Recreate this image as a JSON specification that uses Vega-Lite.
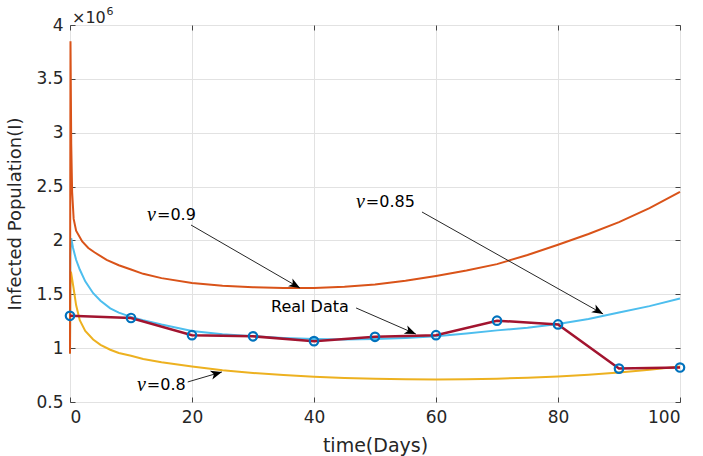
{
  "$schema": "https://vega.github.io/schema/vega-lite/v6.json",
  "width": 610,
  "height": 377,
  "autosize": "none",
  "padding": {"left": 70, "top": 25, "right": 23, "bottom": 54},
  "background": "white",
  "datasets": {
    "curves": [
      {"t": 0, "I": 950000, "series": "0.85"}, {"t": 0.05, "I": 1850000, "series": "0.85"}, {"t": 0.2, "I": 2020000, "series": "0.85"}, {"t": 0.5, "I": 1930000, "series": "0.85"}, {"t": 1, "I": 1820000, "series": "0.85"}, {"t": 1.6, "I": 1730000, "series": "0.85"}, {"t": 2.5, "I": 1620000, "series": "0.85"}, {"t": 3.8, "I": 1510000, "series": "0.85"}, {"t": 5, "I": 1440000, "series": "0.85"}, {"t": 6.6, "I": 1370000, "series": "0.85"}, {"t": 8, "I": 1330000, "series": "0.85"}, {"t": 10, "I": 1290000, "series": "0.85"}, {"t": 12, "I": 1260000, "series": "0.85"}, {"t": 15, "I": 1220000, "series": "0.85"}, {"t": 20, "I": 1160000, "series": "0.85"}, {"t": 25, "I": 1130000, "series": "0.85"}, {"t": 30, "I": 1110000, "series": "0.85"}, {"t": 35, "I": 1095000, "series": "0.85"}, {"t": 40, "I": 1085000, "series": "0.85"}, {"t": 45, "I": 1080000, "series": "0.85"}, {"t": 50, "I": 1085000, "series": "0.85"}, {"t": 55, "I": 1095000, "series": "0.85"}, {"t": 60, "I": 1110000, "series": "0.85"}, {"t": 65, "I": 1135000, "series": "0.85"}, {"t": 70, "I": 1165000, "series": "0.85"}, {"t": 75, "I": 1190000, "series": "0.85"}, {"t": 80, "I": 1225000, "series": "0.85"}, {"t": 85, "I": 1270000, "series": "0.85"}, {"t": 90, "I": 1330000, "series": "0.85"}, {"t": 95, "I": 1390000, "series": "0.85"}, {"t": 100, "I": 1460000, "series": "0.85"},
      {"t": 0, "I": 950000, "series": "0.8"}, {"t": 0.05, "I": 1550000, "series": "0.8"}, {"t": 0.15, "I": 1710000, "series": "0.8"}, {"t": 0.3, "I": 1660000, "series": "0.8"}, {"t": 0.55, "I": 1570000, "series": "0.8"}, {"t": 1, "I": 1400000, "series": "0.8"}, {"t": 1.6, "I": 1260000, "series": "0.8"}, {"t": 2.5, "I": 1160000, "series": "0.8"}, {"t": 3.8, "I": 1080000, "series": "0.8"}, {"t": 5, "I": 1030000, "series": "0.8"}, {"t": 6.6, "I": 985000, "series": "0.8"}, {"t": 8, "I": 955000, "series": "0.8"}, {"t": 10, "I": 930000, "series": "0.8"}, {"t": 12, "I": 900000, "series": "0.8"}, {"t": 15, "I": 870000, "series": "0.8"}, {"t": 20, "I": 830000, "series": "0.8"}, {"t": 25, "I": 795000, "series": "0.8"}, {"t": 30, "I": 770000, "series": "0.8"}, {"t": 35, "I": 750000, "series": "0.8"}, {"t": 40, "I": 735000, "series": "0.8"}, {"t": 45, "I": 723000, "series": "0.8"}, {"t": 50, "I": 715000, "series": "0.8"}, {"t": 55, "I": 711000, "series": "0.8"}, {"t": 60, "I": 710000, "series": "0.8"}, {"t": 65, "I": 712000, "series": "0.8"}, {"t": 70, "I": 717000, "series": "0.8"}, {"t": 75, "I": 725000, "series": "0.8"}, {"t": 80, "I": 737000, "series": "0.8"}, {"t": 85, "I": 753000, "series": "0.8"}, {"t": 90, "I": 775000, "series": "0.8"}, {"t": 95, "I": 800000, "series": "0.8"}, {"t": 100, "I": 830000, "series": "0.8"},
      {"t": 0, "I": 950000, "series": "0.9"}, {"t": 0.08, "I": 3850000, "series": "0.9"}, {"t": 0.2, "I": 2900000, "series": "0.9"}, {"t": 0.35, "I": 2450000, "series": "0.9"}, {"t": 0.6, "I": 2200000, "series": "0.9"}, {"t": 1, "I": 2090000, "series": "0.9"}, {"t": 2, "I": 1990000, "series": "0.9"}, {"t": 3, "I": 1930000, "series": "0.9"}, {"t": 4, "I": 1890000, "series": "0.9"}, {"t": 6, "I": 1820000, "series": "0.9"}, {"t": 8, "I": 1770000, "series": "0.9"}, {"t": 10, "I": 1730000, "series": "0.9"}, {"t": 12, "I": 1690000, "series": "0.9"}, {"t": 15, "I": 1650000, "series": "0.9"}, {"t": 20, "I": 1605000, "series": "0.9"}, {"t": 25, "I": 1580000, "series": "0.9"}, {"t": 30, "I": 1565000, "series": "0.9"}, {"t": 35, "I": 1558000, "series": "0.9"}, {"t": 40, "I": 1558000, "series": "0.9"}, {"t": 45, "I": 1570000, "series": "0.9"}, {"t": 50, "I": 1590000, "series": "0.9"}, {"t": 55, "I": 1625000, "series": "0.9"}, {"t": 60, "I": 1670000, "series": "0.9"}, {"t": 65, "I": 1720000, "series": "0.9"}, {"t": 70, "I": 1780000, "series": "0.9"}, {"t": 75, "I": 1865000, "series": "0.9"}, {"t": 80, "I": 1960000, "series": "0.9"}, {"t": 85, "I": 2060000, "series": "0.9"}, {"t": 90, "I": 2170000, "series": "0.9"}, {"t": 95, "I": 2300000, "series": "0.9"}, {"t": 100, "I": 2450000, "series": "0.9"}
    ],
    "real": [
      {"t": 0, "I": 1300000}, {"t": 10, "I": 1280000}, {"t": 20, "I": 1120000}, {"t": 30, "I": 1110000}, {"t": 40, "I": 1065000}, {"t": 50, "I": 1105000}, {"t": 60, "I": 1120000}, {"t": 70, "I": 1255000}, {"t": 80, "I": 1220000}, {"t": 90, "I": 810000}, {"t": 100, "I": 820000}
    ],
    "notes": [
      {"t": 14.26, "I": 2236000, "sym": "ν", "rest": "=0.9"},
      {"t": 48.5, "I": 2357000, "sym": "ν", "rest": "=0.85"},
      {"t": 12.6, "I": 658000, "sym": "ν", "rest": "=0.8"},
      {"t": 32.95, "I": 1382000, "sym": "", "rest": "Real Data"}
    ],
    "arrows": [
      {"t": 19.84, "I": 2143000, "t2": 37.7, "I2": 1558000, "angle": 120},
      {"t": 57.7, "I": 2264000, "t2": 87.4, "I2": 1317000, "angle": 119.4},
      {"t": 46.9, "I": 1373000, "t2": 56.7, "I2": 1131000, "angle": 113.4},
      {"t": 19.3, "I": 686000, "t2": 24.9, "I2": 779000, "angle": 73.6}
    ],
    "exponent": [
      {"t": 0.33, "I": 4019000, "base": "×10", "t6": 6.0, "I6": 4093000, "pow": "6"}
    ]
  },
  "resolve": {"axis": {"x": "independent", "y": "independent"}},
  "layer": [
    {
      "data": {"name": "curves"},
      "mark": {"type": "line", "strokeWidth": 2, "interpolate": "linear"},
      "encoding": {
        "x": {"field": "t", "type": "quantitative", "scale": {"domain": [0, 100], "nice": false, "zero": false},
              "axis": {"orient": "bottom", "values": [0, 20, 40, 60, 80, 100], "title": "time(Days)", "grid": true, "tickSize": -5, "labelPadding": 12, "titlePadding": 11, "titleFont": "DejaVu Sans", "titleFontSize": 19}},
        "y": {"field": "I", "type": "quantitative", "scale": {"domain": [500000, 4000000], "nice": false, "zero": false},
              "axis": {"orient": "left", "values": [500000, 1000000, 1500000, 2000000, 2500000, 3000000, 3500000, 4000000], "labelExpr": "format(datum.value / 1000000, '.1~f')", "title": "Infected Population(I)", "grid": true, "tickSize": -5, "labelPadding": 12, "titlePadding": 11, "titleFont": "DejaVu Sans", "titleFontSize": 18}},
        "color": {"field": "series", "type": "nominal", "legend": null,
                  "scale": {"domain": ["0.85", "0.8", "0.9"], "range": ["#4DBEEE", "#EDB120", "#D95319"]}}
      }
    },
    {
      "data": {"name": "real"},
      "mark": {"type": "line", "color": "#A2142F", "strokeWidth": 2.5},
      "encoding": {
        "x": {"field": "t", "type": "quantitative", "axis": null},
        "y": {"field": "I", "type": "quantitative", "axis": null}
      }
    },
    {
      "data": {"name": "real"},
      "mark": {"type": "point", "shape": "circle", "filled": false, "color": "#0072BD", "strokeWidth": 2.2, "size": 72, "opacity": 1},
      "encoding": {
        "x": {"field": "t", "type": "quantitative", "axis": null},
        "y": {"field": "I", "type": "quantitative", "axis": null}
      }
    },
    {
      "data": {"name": "arrows"},
      "mark": {"type": "rule", "color": "#262626", "strokeWidth": 1},
      "encoding": {
        "x": {"field": "t", "type": "quantitative", "axis": null},
        "y": {"field": "I", "type": "quantitative", "axis": null},
        "x2": {"field": "t2"},
        "y2": {"field": "I2"}
      }
    },
    {
      "data": {"name": "arrows"},
      "mark": {"type": "point", "shape": "M0,0L0.75,1.9L0,1.4L-0.75,1.9Z", "filled": true, "color": "#000000", "size": 140, "opacity": 1},
      "encoding": {
        "x": {"field": "t2", "type": "quantitative", "axis": null},
        "y": {"field": "I2", "type": "quantitative", "axis": null},
        "angle": {"field": "angle", "type": "quantitative", "scale": null}
      }
    },
    {
      "data": {"name": "notes"},
      "mark": {"type": "text", "align": "right", "baseline": "middle", "font": "Liberation Serif", "fontStyle": "italic", "fontSize": 20, "color": "#000000", "dx": -1},
      "encoding": {
        "x": {"field": "t", "type": "quantitative", "axis": null},
        "y": {"field": "I", "type": "quantitative", "axis": null},
        "text": {"field": "sym"}
      }
    },
    {
      "data": {"name": "notes"},
      "mark": {"type": "text", "align": "left", "baseline": "middle", "font": "DejaVu Sans", "fontSize": 16, "color": "#000000"},
      "encoding": {
        "x": {"field": "t", "type": "quantitative", "axis": null},
        "y": {"field": "I", "type": "quantitative", "axis": null},
        "text": {"field": "rest"}
      }
    },
    {
      "data": {"name": "exponent"},
      "mark": {"type": "text", "align": "left", "baseline": "alphabetic", "font": "DejaVu Sans", "fontSize": 16, "color": "#262626"},
      "encoding": {
        "x": {"field": "t", "type": "quantitative", "axis": null},
        "y": {"field": "I", "type": "quantitative", "axis": null},
        "text": {"field": "base"}
      }
    },
    {
      "data": {"name": "exponent"},
      "mark": {"type": "text", "align": "left", "baseline": "alphabetic", "font": "DejaVu Sans", "fontSize": 11, "color": "#262626"},
      "encoding": {
        "x": {"field": "t6", "type": "quantitative", "axis": null},
        "y": {"field": "I6", "type": "quantitative", "axis": null},
        "text": {"field": "pow"}
      }
    },
    {
      "data": {"name": "real"},
      "mark": {"type": "point", "opacity": 0},
      "encoding": {
        "x": {"field": "t", "type": "quantitative",
              "axis": {"orient": "top", "values": [0, 20, 40, 60, 80, 100], "labels": false, "grid": false, "title": null, "tickSize": -5}},
        "y": {"field": "I", "type": "quantitative",
              "axis": {"orient": "right", "values": [500000, 1000000, 1500000, 2000000, 2500000, 3000000, 3500000, 4000000], "labels": false, "grid": false, "title": null, "tickSize": -5}}
      }
    }
  ],
  "config": {
    "view": {"stroke": "#5a5a5a", "strokeWidth": 1},
    "axis": {
      "domain": false,
      "gridColor": "#e2e2e2",
      "gridWidth": 1,
      "tickColor": "#444444",
      "tickWidth": 1,
      "labelColor": "#262626",
      "labelFont": "DejaVu Sans",
      "labelFontSize": 17,
      "titleColor": "#262626",
      "titleFontWeight": "normal"
    }
  }
}
